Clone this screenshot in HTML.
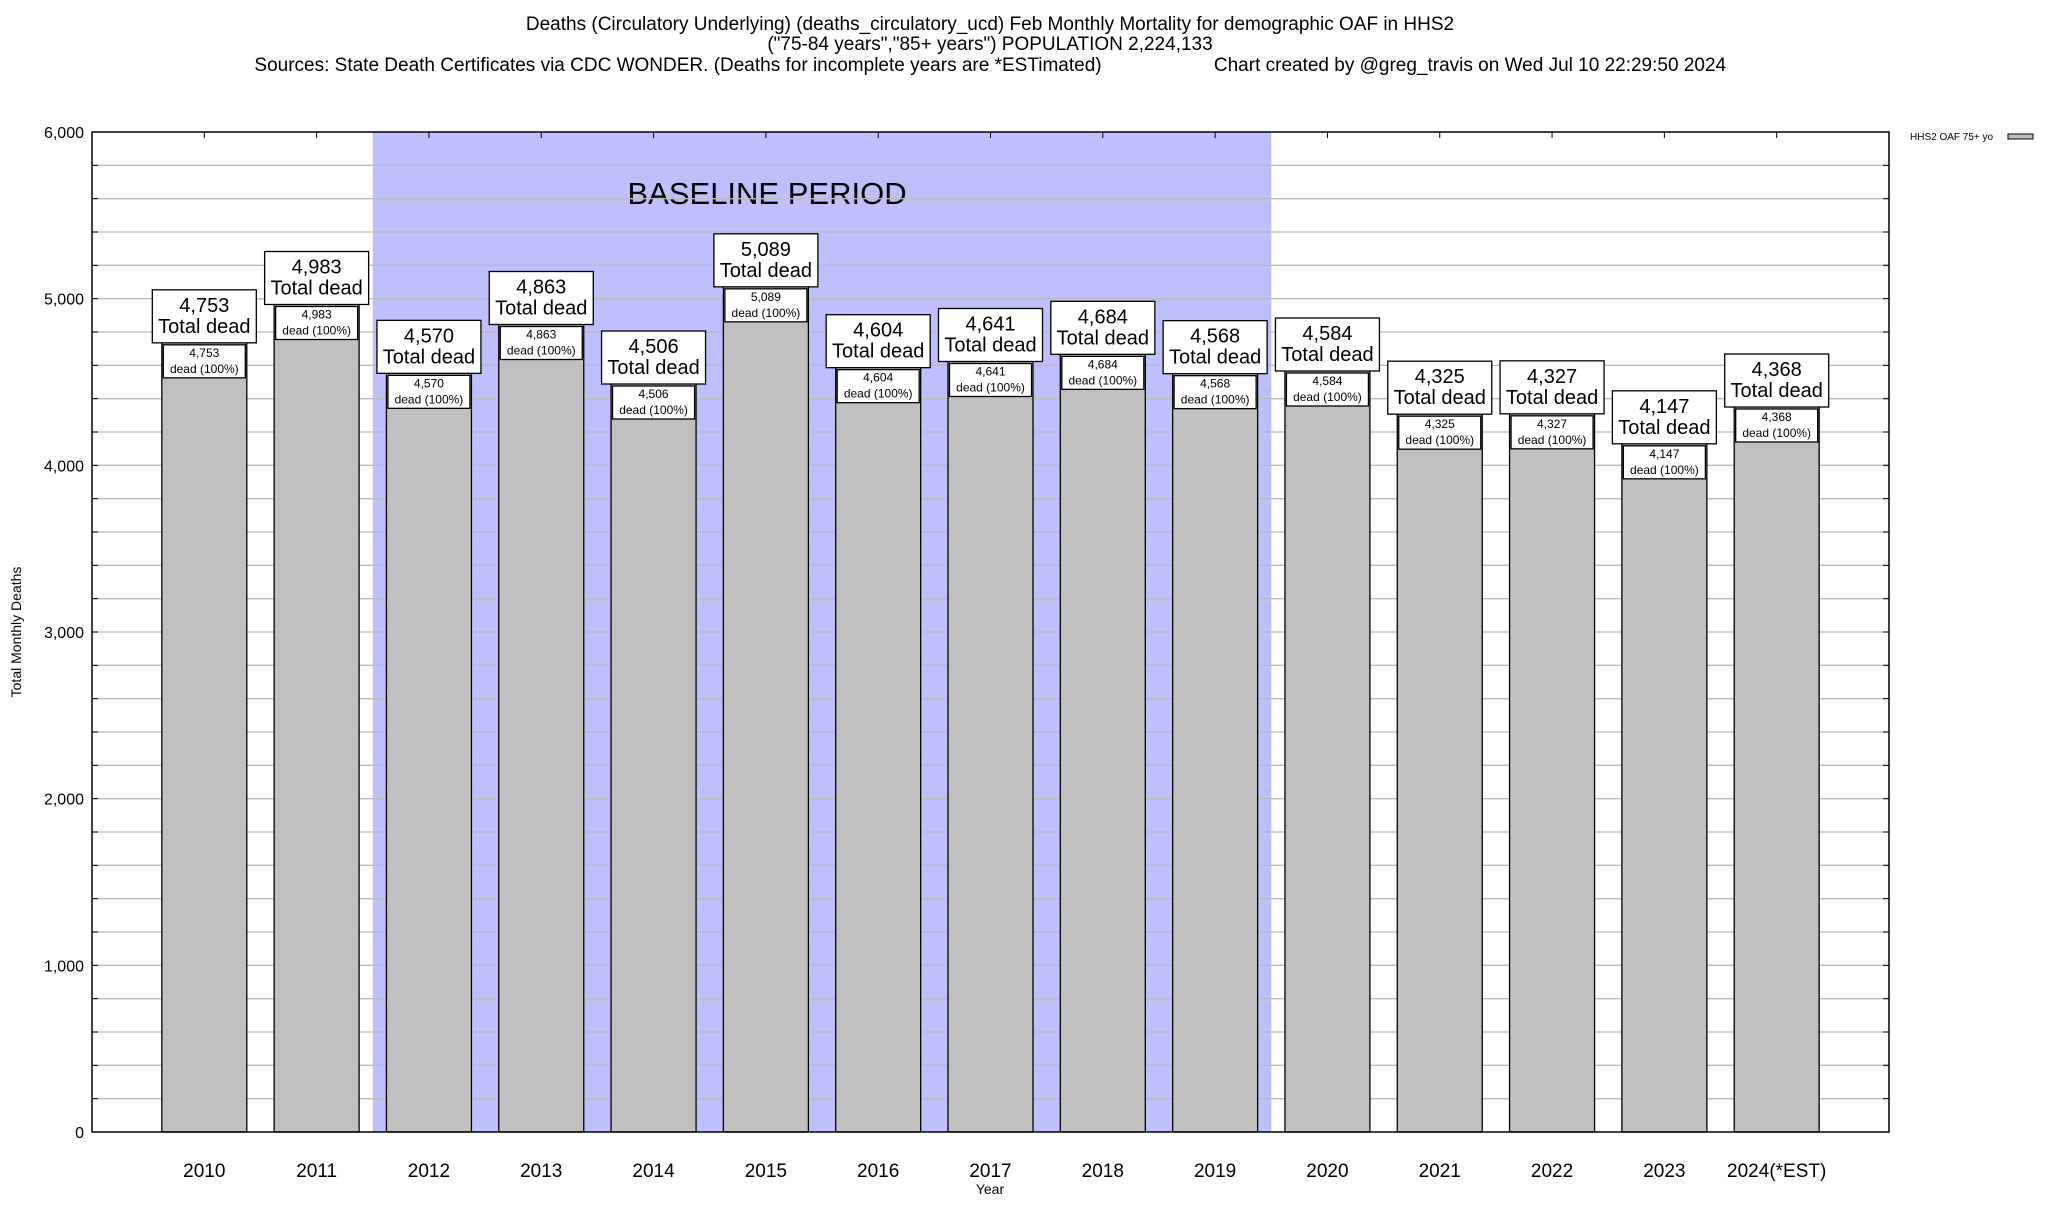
<!DOCTYPE html>
<html><head><meta charset="utf-8"><style>
html,body{margin:0;padding:0;background:#fff}
svg text{font-family:"Liberation Sans",Arial,sans-serif}
</style></head><body>
<svg id="chart" width="2048" height="1200" viewBox="0 0 2048 1200" xmlns="http://www.w3.org/2000/svg">
<rect width="2048" height="1200" fill="#fff"/>
<g font-size="19" text-anchor="middle" fill="#000">
<text x="990" y="30">Deaths (Circulatory Underlying) (deaths_circulatory_ucd) Feb Monthly Mortality for demographic OAF in HHS2</text>
<text x="990" y="50">("75-84 years","85+ years") POPULATION 2,224,133</text>
<text x="678" y="71">Sources: State Death Certificates via CDC WONDER. (Deaths for incomplete years are *ESTimated)</text>
<text x="1470" y="71">Chart created by @greg_travis on Wed Jul 10 22:29:50 2024</text>
</g>
<g id="plot"></g>
<g>
<text x="1910" y="140" font-size="10">HHS2 OAF 75+ yo</text>
<rect x="2008" y="134" width="25" height="5" fill="#c0c0c0" stroke="#000" stroke-width="1"/>
</g>
<text x="21" y="632" font-size="14" text-anchor="middle" transform="rotate(-90 21 632)">Total Monthly Deaths</text>
<text x="990" y="1194" font-size="14" text-anchor="middle">Year</text>
</svg>
<script>
const categories=["2010","2011","2012","2013","2014","2015","2016","2017","2018","2019","2020","2021","2022","2023","2024(*EST)"];
const values=[4753,4983,4570,4863,4506,5089,4604,4641,4684,4568,4584,4325,4327,4147,4368];
const yTicks=[0,1000,2000,3000,4000,5000,6000];
const yTickLabels=["0","1,000","2,000","3,000","4,000","5,000","6,000"];
const baselineStart=2, baselineEnd=9;
const L=92,R=1889,T=132,B=1132,yMax=6000;
const step=(R-L)/(categories.length+1);
const xc=i=>L+(i+1)*step;
const y=v=>B-v/yMax*(B-T);
const NS="http://www.w3.org/2000/svg";
const plot=document.getElementById('plot');
function mk(tag,attrs,parent,text){const e=document.createElementNS(NS,tag);for(const k in attrs)e.setAttribute(k,attrs[k]);if(text!==undefined)e.textContent=text;(parent||plot).appendChild(e);return e;}
// baseline shading
const bl=mk('rect',{x:xc(baselineStart)-step/2,y:T,width:(baselineEnd-baselineStart+1)*step,height:B-T,fill:'#bfbffe'});


const blt=mk('text',{x:(xc(baselineStart)+xc(baselineEnd))/2-55,y:204,'font-size':31,'text-anchor':'middle'},plot,'BASELINE PERIOD');


// gridlines
for(let v=200;v<yMax;v+=200){
  const g=mk('line',{x1:L,x2:R,y1:y(v),y2:y(v),stroke:'#bbbbbb','stroke-width':1.3});
  
  
  mk('line',{x1:L,x2:L+6,y1:y(v),y2:y(v),stroke:'#000'});
  mk('line',{x1:R-6,x2:R,y1:y(v),y2:y(v),stroke:'#000'});
}
yTicks.forEach((v,i)=>{
  const t=mk('text',{x:84,y:y(v)+6,'font-size':16,'text-anchor':'end'},plot,yTickLabels[i]);
  
  
});
// bars
categories.forEach((c,i)=>{
  const cx=xc(i),v=values[i],top=y(v);
  mk('line',{x1:cx,x2:cx,y1:T,y2:T+6,stroke:'#000'});
  const b=mk('rect',{x:cx-42.5,y:top,width:85,height:B-top,fill:'#c0c0c0',stroke:'#000','stroke-width':1.3});
  
  
  const s=v.toLocaleString('en-US');
  const ib=mk('rect',{x:cx-41,y:top+5,width:82,height:33,fill:'#fff',stroke:'#000','stroke-width':1.3});
  
  
  mk('text',{x:cx,y:top+17,'font-size':12,'text-anchor':'middle'},plot,s);
  mk('text',{x:cx,y:top+33,'font-size':12,'text-anchor':'middle'},plot,'dead (100%)');
  const lb=mk('rect',{x:cx-52,y:top-50,width:104,height:53,fill:'#fff',stroke:'#000','stroke-width':1.3});
  
  
  mk('text',{x:cx,y:top-28,'font-size':20,'text-anchor':'middle'},plot,s);
  mk('text',{x:cx,y:top-7,'font-size':20,'text-anchor':'middle'},plot,'Total dead');
  const xl=mk('text',{x:cx,y:1177,'font-size':19,'text-anchor':'middle'},plot,c);
  
  
});
const fr=mk('rect',{x:L,y:T,width:R-L,height:B-T,fill:'none',stroke:'#000','stroke-width':1.5});


</script>
</body></html>
